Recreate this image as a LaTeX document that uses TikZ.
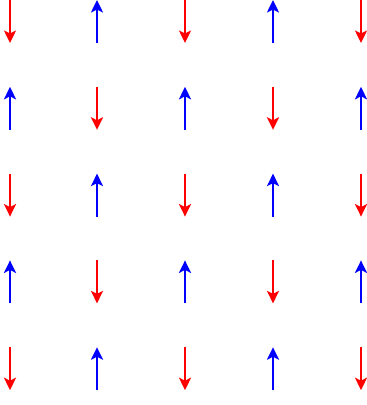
\documentclass[tikz,border=0pt]{standalone}
\usetikzlibrary{arrows.meta}
\definecolor{upblue}{RGB}{0,0,255}
\definecolor{downred}{RGB}{255,0,0}
\tikzset{
  spin/.style={line width=2.5pt, -{Stealth[length=12.5pt,width=12pt,inset=3pt]}},
  spinup/.style={spin, upblue},
  spindown/.style={spin, downred}
}
\begin{document}
\begin{tikzpicture}[x=1pt,y=-1pt]
\useasboundingbox (0,0) rectangle (367,405);
\foreach \i in {0,...,4}{
  \foreach \j/\xx in {0/10,1/97,2/185,3/273,4/361}{
    \pgfmathsetmacro{\yt}{86.8*\i}
    \pgfmathsetmacro{\yb}{86.8*\i+43}
    \coordinate (t-\i-\j) at (\xx,\yt);
    \coordinate (b-\i-\j) at (\xx,\yb);
    \pgfmathtruncatemacro{\myparity}{mod(\i+\j,2)}
    \ifnum\myparity=0
      \draw[spindown] (t-\i-\j) -- (b-\i-\j);
    \else
      \draw[spinup] (b-\i-\j) -- (t-\i-\j);
    \fi
  }
}
\end{tikzpicture}
\end{document}
